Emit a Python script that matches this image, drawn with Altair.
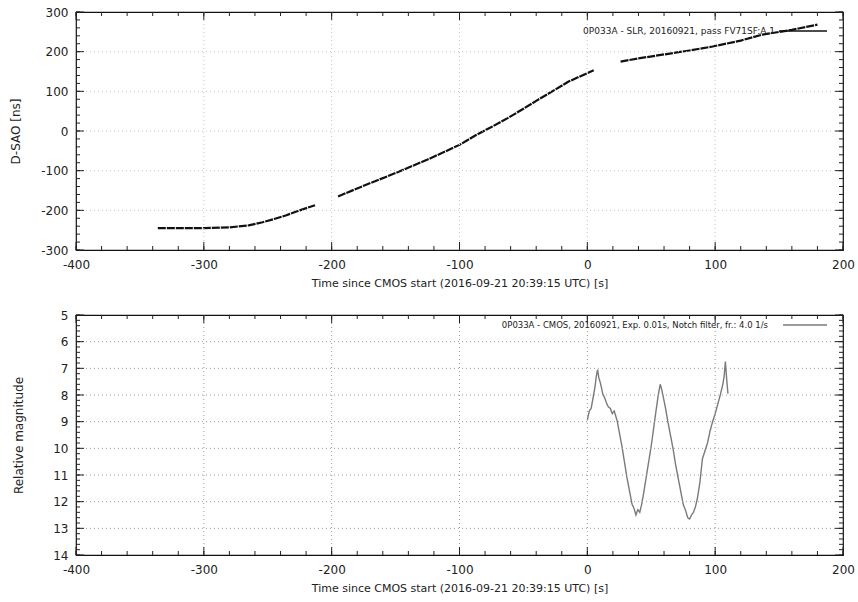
import altair as alt
import pandas as pd

FONT = "DejaVu Sans"
INK = "#222222"
X_TITLE = "Time since CMOS start (2016-09-21 20:39:15 UTC) [s]"

# --- SLR residuals, three separate tracking arcs: time [s] -> D-SAO [ns]
slr_arc1_t = [-336, -320, -300, -280, -265, -254, -245, -236, -225, -213]
slr_arc1_v = [-245, -245, -245, -243, -238, -230, -222, -213, -200, -187]
slr_arc2_t = [-195, -175, -150, -125, -100, -87, -75, -62, -50, -40, -30, -15, 0, 5]
slr_arc2_v = [-165, -138, -106, -72, -35, -10, 10, 33, 56, 76, 95, 124, 146, 153]
slr_arc3_t = [26, 40, 60, 80, 98, 120, 137, 160, 180]
slr_arc3_v = [175, 183, 193, 203, 213, 228, 243, 255, 268]

# --- CMOS light curve: time [s] -> relative magnitude
cmos_t = [0, 1.5, 3, 4.5, 6, 7, 8, 9, 10.5, 12, 13.5, 15, 16.5, 18, 19.5, 21, 22, 23.5,
          25, 27, 29, 31, 33, 35, 36.5, 38, 39.5, 41, 42.5, 44, 46, 48, 50, 52, 54, 55.5,
          57, 58, 59.5, 61, 63, 65, 67, 69, 71, 73, 75, 77, 78.5, 80, 81.5, 83, 84.5, 86,
          88, 90, 92, 94, 96, 98, 100, 102, 104, 106, 107, 108, 109, 110]
cmos_mag = [8.95, 8.6, 8.5, 8.1, 7.7, 7.3, 7.05, 7.35, 7.6, 7.95, 8.1, 8.3, 8.45, 8.5, 8.7,
            8.6, 8.75, 9.0, 9.4, 9.9, 10.5, 11.1, 11.6, 12.1, 12.25, 12.5, 12.3, 12.4, 12.1,
            11.7, 11.1, 10.5, 9.9, 9.2, 8.5, 8.0, 7.6, 7.75, 8.1, 8.45, 9.0, 9.5, 10.0, 10.6,
            11.1, 11.6, 12.1, 12.35, 12.6, 12.65, 12.5, 12.4, 12.2, 11.9, 11.3, 10.4, 10.1,
            9.8, 9.35, 9.0, 8.7, 8.35, 8.0, 7.6, 7.3, 6.75, 7.4, 7.95]

# --- tick positions
x_major = [-400, -300, -200, -100, 0, 100, 200]
x_minor = list(range(-400, 201, 20))
slr_major = [-300, -200, -100, 0, 100, 200, 300]
slr_minor = list(range(-300, 301, 20))
mag_major = [5, 6, 7, 8, 9, 10, 11, 12, 13, 14]
mag_minor = [round(5 + 0.2 * i, 1) for i in range(46)]

slr_key = "0P033A - SLR, 20160921, pass FV71SF:A,1"
cmos_key = "0P033A - CMOS, 20160921, Exp. 0.01s, Notch filter, fr.: 4.0 1/s"

slr_df = pd.concat([
    pd.DataFrame({"t": slr_arc1_t, "v": slr_arc1_v, "arc": "1"}),
    pd.DataFrame({"t": slr_arc2_t, "v": slr_arc2_v, "arc": "2"}),
    pd.DataFrame({"t": slr_arc3_t, "v": slr_arc3_v, "arc": "3"}),
])
cmos_df = pd.DataFrame({"t": cmos_t, "v": cmos_mag, "arc": "1"})

W = 767
MAJOR, MINOR = 8, 4


def framed_panel(df, color, dash, stroke_w, height, y_dom, y_rev, y_major, y_minor,
                 y_title, y_title_pad, grid_color, key_text, key_size, key_x, key_y, line_x):
    style = dict(labelFont=FONT, titleFont=FONT, labelColor=INK, titleColor=INK,
                 domain=False, ticks=False, grid=False, labelOverlap=False,
                 titleFontWeight="normal", labelExpr="'' + datum.value")
    # one shared definition per channel, used by every layer so they merge cleanly
    X = lambda: alt.X("t:Q", scale=alt.Scale(domain=[-400, 200], nice=False, zero=False),
                      axis=alt.Axis(values=x_major, labelFontSize=12, labelPadding=9,
                                    labelFlush=False, title=X_TITLE, titleFontSize=11,
                                    titlePadding=7, **style))
    Y = lambda: alt.Y("v:Q", scale=alt.Scale(domain=y_dom, nice=False, zero=False, reverse=y_rev),
                      axis=alt.Axis(values=y_major, labelFontSize=12, labelPadding=8,
                                    title=y_title, titleFontSize=12,
                                    titlePadding=y_title_pad, **style))

    data_line = alt.Chart(df).mark_line(
        color=color, strokeWidth=stroke_w, strokeDash=dash
    ).encode(x=X(), y=Y(), detail="arc:N")

    # dotted grid at the interior major ticks
    grid_x = alt.Chart(pd.DataFrame({"t": x_major[1:-1]})).mark_rule(
        color=grid_color, strokeDash=[1, 3]).encode(x=X())
    grid_y = alt.Chart(pd.DataFrame({"v": y_major[1:-1]})).mark_rule(
        color=grid_color, strokeDash=[1, 3]).encode(y=Y())

    # inward ticks on all four sides (mirrored)
    def xticks(values, size):
        src = alt.Chart(pd.DataFrame({"t": values}))
        bottom = src.mark_rule(color=INK).encode(
            x=X(), y=alt.value(height), y2=alt.value(height - size))
        top = src.mark_rule(color=INK).encode(
            x=X(), y=alt.value(0), y2=alt.value(size))
        return [bottom, top]

    def yticks(values, size):
        src = alt.Chart(pd.DataFrame({"v": values}))
        left = src.mark_rule(color=INK).encode(
            y=Y(), x=alt.value(0), x2=alt.value(size))
        right = src.mark_rule(color=INK).encode(
            y=Y(), x=alt.value(W), x2=alt.value(W - size))
        return [left, right]

    ticks = (xticks(x_minor, MINOR) + xticks(x_major, MAJOR)
             + yticks(y_minor, MINOR) + yticks(y_major, MAJOR))

    key_src = alt.Chart(pd.DataFrame({"label": [key_text]}))
    key_label = key_src.mark_text(
        font=FONT, fontSize=key_size, color=INK, align="right", baseline="middle"
    ).encode(x=alt.value(key_x), y=alt.value(key_y), text="label:N")
    key_line = key_src.mark_rule(color=color, strokeWidth=1.3).encode(
        x=alt.value(line_x[0]), x2=alt.value(line_x[1]), y=alt.value(key_y))

    return alt.layer(data_line, grid_x, grid_y, *ticks, key_label, key_line).properties(
        width=W, height=height)


top = framed_panel(slr_df, "#111111", [8, 1], 2.2, 238, [-300, 300], False,
                   slr_major, slr_minor, "D-SAO [ns]", 18, "#c4c4c4",
                   slr_key, 9, 699, 19, (703, 751))
bottom = framed_panel(cmos_df, "#7a7a7a", [1, 0], 1.4, 240, [5, 14], True,
                      mag_major, mag_minor, "Relative magnitude", 27, "#9a9a9a",
                      cmos_key, 8.5, 692, 10, (707, 751))

chart = alt.vconcat(top, bottom, spacing=19).properties(
    padding={"left": 9, "top": 5, "right": 0, "bottom": 2},
    background="white",
).configure_view(stroke="#111111", strokeWidth=1.2)

chart.save("out.html", embed_options={"renderer": "svg", "actions": False})
